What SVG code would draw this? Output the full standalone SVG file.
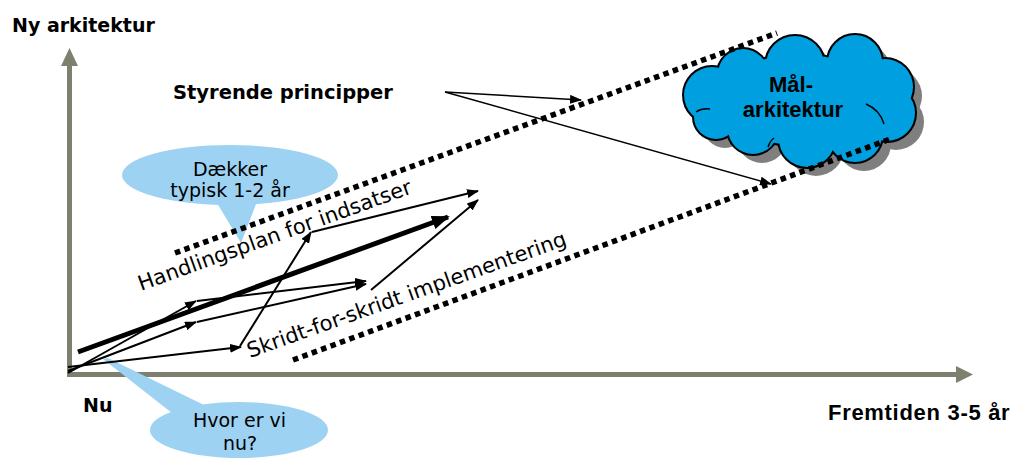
<svg xmlns="http://www.w3.org/2000/svg" width="1013" height="460" viewBox="0 0 1013 460">
<style>
.axis{stroke:#7f7f70;stroke-width:5;fill:none}
.axhead{fill:#7f7f70}
.dots{stroke:#000;stroke-width:5.5;stroke-dasharray:5.5 4.5;fill:none}
.thin{stroke:#000;stroke-width:2;fill:none;marker-end:url(#ah)}
.thinner{stroke:#000;stroke-width:1.5;fill:none;marker-end:url(#ah)}
.thick{stroke:#000;stroke-width:5;fill:none;marker-end:url(#ahb)}
.bub{fill:#9dd2f2}
.lbl{font-family:"DejaVu Sans",Verdana,sans-serif;font-weight:bold;font-size:19px;fill:#000}
.btxt{font-family:"DejaVu Sans",Verdana,sans-serif;font-size:19px;fill:#000;text-anchor:middle}
.rot{font-family:"DejaVu Sans",Verdana,sans-serif;font-size:21px;fill:#000}
.ctxt{font-family:"Liberation Sans",Arial,sans-serif;font-weight:bold;font-size:22px;fill:#000;text-anchor:middle}
.cl{fill:#009fdf;stroke:#000;stroke-width:4}
.cf{fill:#009fdf}
.cs{fill:#7f7f7f}
.cin{fill:none;stroke:#000;stroke-width:1.5}
</style>
<defs>
<marker id="ah" viewBox="0 0 12 9" refX="11" refY="4.5" markerWidth="12" markerHeight="9" markerUnits="userSpaceOnUse" orient="auto"><path d="M0,0 L12,4.5 L0,9 z" fill="#000"/></marker>
<marker id="ahb" viewBox="0 0 18 14" refX="16" refY="7" markerWidth="18" markerHeight="14" markerUnits="userSpaceOnUse" orient="auto"><path d="M0,0 L18,7 L0,14 z" fill="#000"/></marker>
<g id="cloudshape">
<circle cx="712" cy="95" r="28"/>
<circle cx="743" cy="74" r="25"/>
<circle cx="795" cy="65" r="29"/>
<circle cx="855" cy="62" r="27"/>
<circle cx="885" cy="87" r="28"/>
<circle cx="887" cy="113" r="28"/>
<circle cx="855" cy="135" r="27"/>
<circle cx="807" cy="139" r="28"/>
<circle cx="753" cy="129" r="25"/>
<circle cx="716" cy="117" r="22"/>
<ellipse cx="800" cy="100" rx="85" ry="45"/>
</g>
</defs>

<g id="axes">
<line class="axis" x1="69.5" y1="377" x2="69.5" y2="63"/>
<polygon class="axhead" points="61,66 69.5,48 78,66"/>
<line class="axis" x1="67" y1="374.5" x2="958" y2="374.5"/>
<polygon class="axhead" points="956,366 973,374.5 956,383"/>
</g>

<g id="bubble-daekker">
<ellipse class="bub" cx="230" cy="175" rx="108" ry="30"/>
<polygon class="bub" points="214,198 241,243 258,199"/>
<text class="btxt" x="230" y="176">Dækker</text>
<text class="btxt" x="230" y="197">typisk 1-2 år</text>
</g>

<g id="bubble-hvor">
<polygon class="bub" points="103,359 108,358 206,406 172,413"/>
<ellipse class="bub" cx="239" cy="430" rx="89" ry="28"/>
<text class="btxt" x="239.5" y="427">Hvor er vi</text>
<text class="btxt" x="240" y="450">nu?</text>
</g>

<g id="cloud-maal">
<use href="#cloudshape" class="cs" transform="translate(9,9)"/>
<use href="#cloudshape" class="cl"/>
<use href="#cloudshape" class="cf"/>
<path class="cin" d="M866,104 q14,6 18,20"/>
<path class="cin" d="M696,112 q6,-4 14,-3"/>
<path class="cin" d="M768,147 q2,-6 6,-9"/>
<text class="ctxt" x="791" y="92">Mål-</text>
<text class="ctxt" x="793" y="117">arkitektur</text>
</g>

<g id="corridor">
<line class="dots" x1="175" y1="253" x2="777" y2="33"/>
<line class="dots" x1="293" y1="360" x2="893" y2="138"/>
</g>

<g id="connectors">
<line class="thinner" x1="445" y1="92" x2="581" y2="100"/>
<line class="thinner" x1="445" y1="92" x2="771" y2="184"/>
<line class="thin" x1="68" y1="373" x2="196" y2="301"/>
<line class="thin" x1="197" y1="301" x2="366" y2="281"/>
<line class="thin" x1="68" y1="371" x2="196" y2="322"/>
<line class="thin" x1="197" y1="322" x2="366" y2="284"/>
<line class="thin" x1="371" y1="290" x2="478" y2="200"/>
<line class="thin" x1="68" y1="367" x2="241" y2="347"/>
<line class="thin" x1="240" y1="346" x2="311" y2="232"/>
<line class="thin" x1="312" y1="232" x2="478" y2="191"/>
<line class="thick" x1="78" y1="352" x2="448" y2="217"/>
</g>

<g id="labels">
<text class="lbl" x="12" y="32">Ny arkitektur</text>
<text class="lbl" x="173" y="99" style="font-size:19.5px">Styrende principper</text>
<text class="lbl" x="83" y="412">Nu</text>
<text x="828" y="420" style="font-family:'Liberation Sans',Arial,sans-serif;font-weight:bold;font-size:22px;letter-spacing:0.7px">Fremtiden 3-5 år</text>
<text class="rot" transform="translate(141,291) rotate(-19.8)">Handlingsplan for indsatser</text>
<text class="rot" transform="translate(250,358) rotate(-19.6)">Skridt-for-skridt implementering</text>
</g>
</svg>
